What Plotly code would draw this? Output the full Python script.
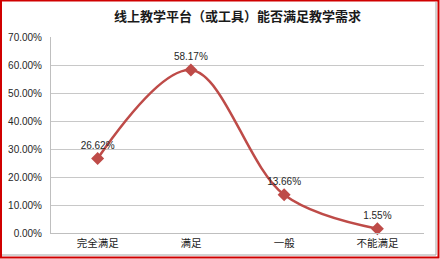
import plotly.graph_objects as go

categories = ["完全满足", "满足", "一般", "不能满足"]
values = [26.62, 58.17, 13.66, 1.55]
labels = ["26.62%", "58.17%", "13.66%", "1.55%"]
tick_vals = [0, 10, 20, 30, 40, 50, 60, 70]
tick_text = ["0.00%", "10.00%", "20.00%", "30.00%", "40.00%", "50.00%", "60.00%", "70.00%"]
title = "线上教学平台（或工具）能否满足教学需求"

W, H = 440, 259
L, R, T, B = 51, 16, 37, 26
pw, ph = W - L - R, H - T - B

def px(x):
    return (x - L) / pw

def py(y):
    return (H - B - y) / ph

line_color = "#BE4B48"

fig = go.Figure()
fig.add_trace(go.Scatter(
    x=categories, y=values, mode="lines+markers+text",
    line=dict(color=line_color, width=2.5, shape="spline", smoothing=1.0),
    marker=dict(symbol="diamond", size=10, color=line_color),
    text=labels, textposition="top center",
    textfont=dict(family="Liberation Sans, Arial", size=10, color="#262626"),
    cliponaxis=False, hoverinfo="skip",
))

shapes = [
    dict(type="line", xref="paper", yref="paper", x0=px(436), x1=px(436), y0=py(2), y1=py(255),
         line=dict(color="#A6A6A6", width=1)),
    dict(type="line", xref="paper", yref="paper", x0=px(2), x1=px(436), y0=py(255), y1=py(255),
         line=dict(color="#A6A6A6", width=1)),
    dict(type="rect", xref="paper", yref="paper", x0=px(1), x1=px(438.5), y0=py(0.5), y1=py(257.5),
         line=dict(color="#D00000", width=2), fillcolor="rgba(0,0,0,0)"),
]

fig.update_layout(
    width=W, height=H,
    margin=dict(l=L, r=R, t=T, b=B, pad=0, autoexpand=False),
    paper_bgcolor="white", plot_bgcolor="white",
    showlegend=False,
    title=dict(text="<b>" + title + "</b>", x=0.5, xref="paper", y=1 - 16 / H, yanchor="middle",
               font=dict(family="Noto Sans CJK SC", size=13, color="#1a1a1a")),
    font=dict(family="Liberation Sans, Arial", size=10, color="#262626"),
    shapes=shapes,
    xaxis=dict(range=[-0.5, 3.5], showgrid=False, showline=True, linecolor="#BFBFBF", linewidth=1,
               ticks="", automargin=False,
               tickfont=dict(family="Noto Sans CJK SC", size=10.5, color="#1a1a1a"),
               fixedrange=True),
    yaxis=dict(range=[0, 70], tickvals=tick_vals, ticktext=tick_text, showgrid=True,
               gridcolor="#C8C8C8", gridwidth=1, showline=True, linecolor="#BFBFBF", linewidth=1,
               zeroline=False, ticks="", ticklabelstandoff=6, automargin=False,
               tickfont=dict(family="Liberation Sans, Arial", size=10, color="#262626"),
               fixedrange=True),
)

fig.write_html("out.html")
